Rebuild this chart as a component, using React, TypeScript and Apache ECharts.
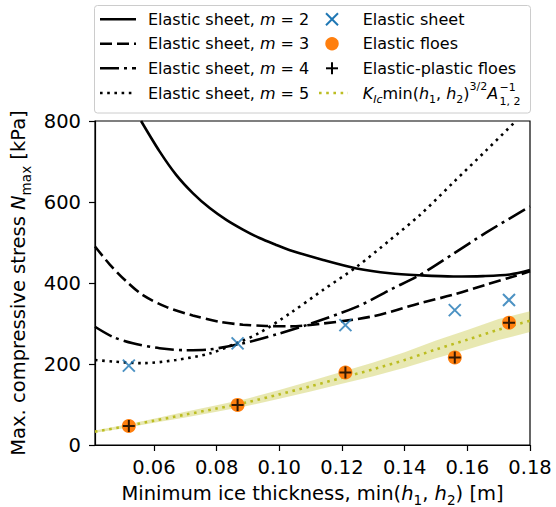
import React, { useEffect, useRef } from "react";
import * as echarts from "echarts";

// ---- data ----
const xTicks = [0.06, 0.08, 0.1, 0.12, 0.14, 0.16, 0.18];
const yTicks = [0, 200, 400, 600, 800];

const m2X = [0.0559, 0.0618, 0.0671, 0.0724, 0.0778, 0.0831, 0.0884, 0.0937, 0.099, 0.1034, 0.114, 0.1247, 0.1353, 0.1449, 0.1555, 0.165, 0.1736, 0.18];
const m2Y = [800, 725, 667, 622, 585, 556, 532, 511, 494, 481, 457, 436, 424, 419, 416, 417, 421, 432];

const m3X = [0.0412, 0.046, 0.0512, 0.0565, 0.0639, 0.0724, 0.081, 0.0884, 0.0958, 0.1034, 0.114, 0.13, 0.1449, 0.1555, 0.1661, 0.1747, 0.18];
const m3Y = [490, 445, 404, 370, 341, 320, 304, 297, 294, 293, 300, 318, 350, 371, 396, 416, 429];

const m4X = [0.0412, 0.0469, 0.0533, 0.0618, 0.0703, 0.0778, 0.0884, 0.099, 0.1086, 0.1247, 0.1353, 0.1449, 0.1555, 0.1661, 0.18];
const m4Y = [292, 267, 251, 239, 234, 236, 251, 273, 296, 341, 383, 420, 472, 525, 589];

const m5X = [0.0412, 0.0469, 0.0565, 0.0671, 0.0778, 0.0863, 0.0937, 0.1034, 0.114, 0.1247, 0.1353, 0.1449, 0.1555, 0.1661, 0.1755];
const m5Y = [210, 206, 202, 210, 226, 251, 277, 325, 383, 440, 506, 568, 648, 728, 800];

const expX = [0.052, 0.0867, 0.1211, 0.156, 0.1733];
const sheetY = [196, 251, 296, 333, 358];
const floesY = [47, 99, 179, 216, 302];
const plasticY = [47, 99, 179, 216, 302];

const kX = [0.0412, 0.05, 0.06, 0.07, 0.08, 0.09, 0.1, 0.11, 0.12, 0.13, 0.14, 0.15, 0.16, 0.17, 0.18];
const kY = [33, 45, 60, 75, 90, 106, 125, 145, 166, 187, 210, 236, 260, 285, 307];
const bandLow = [30, 41, 55, 68, 82, 97, 114, 132, 151, 170, 191, 214, 236, 259, 279];
const bandHigh = [36, 49, 65, 82, 98, 115, 136, 158, 181, 204, 229, 258, 284, 311, 330];

const legendLeft = ["2", "3", "4", "5"];

// ---- styling ----
const FONT = "DejaVu Sans";
const BLUE = "#1f77b4";
const ORANGE = "#ff7f0e";
const OLIVE = "#bcbd22";
const LW = 2.6;
const DASHED = [12, 5];
const DASHDOT = [19, 5, 3, 5];
const DOTTED = [2.6, 4.6];

const zip = (xs: number[], ys: number[]) => xs.map((x, i) => [x, ys[i]]);

const XPATH = "path://M0,0L10,10M10,0L0,10";
const PLUSPATH = "path://M5,0L5,10M0,5L10,5";

function measure(font: string, text: string): number {
  const c = document.createElement("canvas").getContext("2d");
  if (!c) return text.length * 8;
  c.font = font;
  return c.measureText(text).width;
}

export default function App() {
  const ref = useRef<HTMLDivElement>(null);
  useEffect(() => {
    document.body.style.margin = "0";
    const chart = echarts.init(ref.current!, null, { renderer: "svg" });

    const lineSeries = (name: string, xs: number[], ys: number[], type: any) => ({
      name,
      type: "line",
      data: zip(xs, ys),
      showSymbol: false,
      smooth: 0.3,
      clip: true,
      z: 3,
      lineStyle: { color: "#000", width: LW, type, cap: "butt" },
    });

    const legRich16 = {
      t: { fontSize: 16, fontFamily: FONT, fill: "#000", lineHeight: 24, verticalAlign: "middle" },
      i: { fontSize: 16, fontFamily: FONT, fontStyle: "italic", fill: "#000", lineHeight: 24, verticalAlign: "middle" },
      sb: { fontSize: 11, fontFamily: FONT, fontStyle: "italic", fill: "#000", lineHeight: 11, verticalAlign: "bottom" },
      sn: { fontSize: 11, fontFamily: FONT, fill: "#000", lineHeight: 11, verticalAlign: "bottom" },
      sp: { fontSize: 11, fontFamily: FONT, fill: "#000", lineHeight: 11, verticalAlign: "top" },
    };

    const rowY = [19.3, 43.7, 68.3, 93];
    const leftDash: any[] = [null, DASHED, DASHDOT, DOTTED];
    const graphics: any[] = [
      {
        type: "rect",
        shape: { x: 94.5, y: 5.5, width: 436, height: 107.5, r: 3 },
        style: { fill: "rgba(255,255,255,0.8)", stroke: "#cccccc", lineWidth: 1 },
        z: 10,
      },
    ];
    legendLeft.forEach((m, k) => {
      graphics.push({
        type: "line",
        shape: { x1: 100, y1: rowY[k], x2: 136, y2: rowY[k] },
        style: { stroke: "#000", lineWidth: LW, lineDash: leftDash[k], lineCap: "butt" },
        z: 11,
      });
      graphics.push({
        type: "text",
        x: 148,
        y: rowY[k],
        style: {
          text: `{t|Elastic sheet, }{i|m}{t| = ${m}}`,
          rich: legRich16,
          verticalAlign: "middle",
          align: "left",
        },
        z: 11,
      });
    });
    // column 2 handles
    graphics.push(
      { type: "line", shape: { x1: 326, y1: rowY[0] - 6, x2: 338, y2: rowY[0] + 6 }, style: { stroke: BLUE, lineWidth: 2 }, z: 11 },
      { type: "line", shape: { x1: 338, y1: rowY[0] - 6, x2: 326, y2: rowY[0] + 6 }, style: { stroke: BLUE, lineWidth: 2 }, z: 11 },
      { type: "circle", shape: { cx: 332, cy: rowY[1], r: 6.7 }, style: { fill: ORANGE }, z: 11 },
      { type: "line", shape: { x1: 332, y1: rowY[2] - 6, x2: 332, y2: rowY[2] + 6 }, style: { stroke: "#000", lineWidth: 2 }, z: 11 },
      { type: "line", shape: { x1: 326, y1: rowY[2], x2: 338, y2: rowY[2] }, style: { stroke: "#000", lineWidth: 2 }, z: 11 },
      {
        type: "line",
        shape: { x1: 319, y1: rowY[3], x2: 348, y2: rowY[3] },
        style: { stroke: OLIVE, lineWidth: LW, lineDash: DOTTED, lineCap: "butt" },
        z: 11,
      }
    );
    const col2Text = [
      "{t|Elastic sheet}",
      "{t|Elastic floes}",
      "{t|Elastic-plastic floes}",
      "{i|K}{sb|Ic}{t|min(}{i|h}{sn|1}{t|, }{i|h}{sn|2}{t|)}{sp|3/2}{i|A}",
    ];
    const col2X = 362.7;
    col2Text.forEach((txt, k) => {
      graphics.push({
        type: "text",
        x: col2X,
        y: rowY[k],
        style: { text: txt, rich: legRich16, verticalAlign: "middle", align: "left" },
        z: 11,
      });
    });
    // width of the K_Ic ... A run, to attach the stacked scripts of A
    const it16 = `italic 16px "${FONT}"`;
    const n16 = `16px "${FONT}"`;
    const it11 = `italic 11px "${FONT}"`;
    const n11 = `11px "${FONT}"`;
    const runW =
      measure(it16, "K") +
      measure(it11, "Ic") +
      measure(n16, "min(") +
      measure(it16, "h") +
      measure(n11, "1") +
      measure(n16, ", ") +
      measure(it16, "h") +
      measure(n11, "2") +
      measure(n16, ")") +
      measure(n11, "3/2") +
      measure(it16, "A");
    const scriptX = col2X + runW + 1.2;
    graphics.push(
      {
        type: "text",
        x: scriptX,
        y: 87,
        style: { text: "\u22121", fontSize: 11, fontFamily: FONT, fill: "#000", verticalAlign: "middle", align: "left" },
        z: 11,
      },
      {
        type: "text",
        x: scriptX,
        y: 101.5,
        style: { text: "1, 2", fontSize: 11, fontFamily: FONT, fill: "#000", verticalAlign: "middle", align: "left" },
        z: 11,
      }
    );

    const axisRich = {
      t: { fontSize: 19.5, fontFamily: FONT, color: "#000", lineHeight: 28, verticalAlign: "middle" },
      i: { fontSize: 19.5, fontFamily: FONT, fontStyle: "italic", color: "#000", lineHeight: 28, verticalAlign: "middle" },
      s: { fontSize: 13.6, fontFamily: FONT, color: "#000", lineHeight: 13.6, verticalAlign: "bottom" },
    };

    const option: any = {
      animation: false,
      backgroundColor: "#fff",
      textStyle: { fontFamily: FONT },
      grid: {
        left: 95,
        top: 121,
        width: 435,
        height: 324,
        show: true,
        borderColor: "#000",
        borderWidth: 1.2,
        backgroundColor: "transparent",
        containLabel: false,
        outerBoundsMode: "none",
      },
      xAxis: {
        type: "value",
        min: 0.0412,
        max: 0.18,
        name: "{t|Minimum ice thickness, min(}{i|h}{s|1}{t|, }{i|h}{s|2}{t|) [m]}",
        nameLocation: "middle",
        nameGap: 34,
        nameTextStyle: { rich: axisRich },
        axisLine: { show: true, lineStyle: { color: "#000", width: 1.2 } },
        axisTick: { show: true, customValues: xTicks, length: 6, lineStyle: { color: "#000", width: 1.2 } },
        axisLabel: {
          customValues: xTicks,
          formatter: (v: number) => v.toFixed(2),
          fontSize: 19.5,
          color: "#000",
          fontFamily: FONT,
          margin: 12,
        },
        splitLine: { show: false },
      },
      yAxis: {
        type: "value",
        min: yTicks[0],
        max: yTicks[yTicks.length - 1],
        interval: 200,
        name: "{t|Max. compressive stress }{i|N}{s|max}{t| [kPa]}",
        nameLocation: "middle",
        nameRotate: 90,
        nameGap: 62,
        nameTextStyle: { rich: axisRich },
        axisLine: { show: true, lineStyle: { color: "#000", width: 1.2 } },
        axisTick: { show: true, length: 6, lineStyle: { color: "#000", width: 1.2 } },
        axisLabel: { fontSize: 19.5, color: "#000", fontFamily: FONT, margin: 14 },
        splitLine: { show: false },
      },
      graphic: graphics,
      series: [
        {
          name: "band",
          type: "custom",
          z: 1,
          silent: true,
          data: kX.map((x, i) => [x, bandLow[i], bandHigh[i]]),
          encode: { x: 0, y: [1, 2] },
          renderItem: (params: any, api: any) => {
            if (params.dataIndex !== 0) return null;
            const top = kX.map((x, i) => api.coord([x, bandHigh[i]]));
            const bot = kX.map((x, i) => api.coord([x, bandLow[i]])).reverse();
            return {
              type: "polygon",
              shape: { points: top.concat(bot) },
              style: { fill: "rgba(188,189,34,0.35)", stroke: "none" },
            };
          },
        },
        lineSeries("Elastic sheet, m = 2", m2X, m2Y, "solid"),
        lineSeries("Elastic sheet, m = 3", m3X, m3Y, DASHED),
        lineSeries("Elastic sheet, m = 4", m4X, m4Y, DASHDOT),
        lineSeries("Elastic sheet, m = 5", m5X, m5Y, DOTTED),
        {
          name: "KIc min(h1,h2)^(3/2) A^-1",
          type: "line",
          data: zip(kX, kY),
          showSymbol: false,
          smooth: 0.3,
          z: 2,
          lineStyle: { color: OLIVE, width: LW, type: DOTTED, cap: "butt" },
        },
        {
          name: "Elastic sheet",
          type: "scatter",
          data: zip(expX, sheetY),
          symbol: XPATH,
          symbolSize: 12,
          z: 5,
          itemStyle: { color: "rgba(0,0,0,0)", borderColor: BLUE, borderWidth: 2 },
        },
        {
          name: "Elastic floes",
          type: "scatter",
          data: zip(expX, floesY),
          symbol: "circle",
          symbolSize: 14,
          z: 6,
          itemStyle: { color: ORANGE, opacity: 1 },
        },
        {
          name: "Elastic-plastic floes",
          type: "scatter",
          data: zip(expX, plasticY),
          symbol: PLUSPATH,
          symbolSize: 12,
          z: 7,
          itemStyle: { color: "rgba(0,0,0,0)", borderColor: "#000", borderWidth: 2 },
        },
      ],
    };
    chart.setOption(option);
    return () => chart.dispose();
  }, []);
  return <div ref={ref} style={{ width: 556, height: 507 }} />;
}
